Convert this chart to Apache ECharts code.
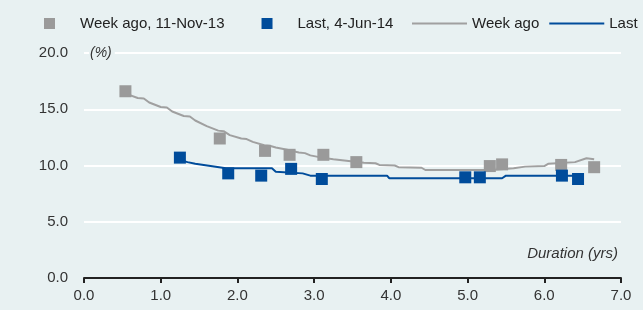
<!DOCTYPE html>
<html>
<head>
<meta charset="utf-8">
<script src="https://cdn.jsdelivr.net/npm/echarts@6/dist/echarts.min.js"></script>
<style>
  html, body { margin: 0; padding: 0; background: #e8f1f2; }
  #chart { width: 643px; height: 310px; }
</style>
</head>
<body>
<div id="chart"></div>
<script>
// scatter points [duration, yield %]
var weekAgoPoints = [[0.54, 16.6], [1.77, 12.4], [2.36, 11.3], [2.68, 10.95], [3.12, 10.95],
  [3.55, 10.3], [5.29, 9.95], [5.45, 10.1], [6.22, 10.05], [6.65, 9.85]];
var lastPoints = [[1.25, 10.7], [1.88, 9.3], [2.31, 9.1], [2.70, 9.7], [3.10, 8.8],
  [4.97, 8.95], [5.16, 8.95], [6.23, 9.1], [6.44, 8.8]];

// fitted curves
var weekAgoCurve = [[0.58, 16.3], [0.7, 16.0], [0.78, 15.95], [0.85, 15.6], [1.0, 15.2], [1.08, 15.15],
  [1.15, 14.8], [1.3, 14.4], [1.38, 14.35], [1.45, 14.0], [1.6, 13.5], [1.75, 13.1], [1.82, 13.05],
  [1.9, 12.7], [2.05, 12.4], [2.12, 12.35], [2.2, 12.1], [2.35, 11.8], [2.42, 11.75], [2.5, 11.6],
  [2.65, 11.4], [2.8, 11.15], [2.88, 11.1], [2.95, 10.9], [3.1, 10.7], [3.25, 10.55], [3.45, 10.4],
  [3.65, 10.25], [3.8, 10.2], [3.85, 10.05], [4.05, 10.0], [4.1, 9.85], [4.4, 9.8], [4.45, 9.6],
  [5.3, 9.6], [5.6, 9.75], [5.75, 9.9], [6.0, 9.95], [6.05, 10.15], [6.4, 10.3], [6.55, 10.65], [6.65, 10.55]];
var lastCurve = [[1.27, 10.45], [1.35, 10.3], [1.45, 10.15], [1.65, 9.95], [1.85, 9.75], [2.45, 9.75],
  [2.5, 9.45], [2.85, 9.3], [2.95, 9.1], [3.95, 9.1], [3.98, 8.87], [5.45, 8.87], [5.5, 9.1], [6.45, 9.1]];

var xTicks = [0, 1, 2, 3, 4, 5, 6, 7];
var yTicks = [0, 5, 10, 15, 20];

var FONT = '"Liberation Sans", Arial, sans-serif';
var GRAY = '#9a9a9a';
var BLUE = '#004c9b';
var BG = '#e8f1f2';

var chart = echarts.init(document.getElementById('chart'));
var option = {
  backgroundColor: BG,
  animation: false,
  textStyle: { fontFamily: FONT },
  grid: { left: 84, right: 22, top: 53, bottom: 32 },
  legend: [
    {
      left: 44, top: 16, padding: 0,
      icon: 'rect', itemWidth: 11, itemHeight: 11, itemGap: 37,
      textStyle: { fontFamily: FONT, fontSize: 15, color: '#222', padding: [0, 0, 0, 20] },
      data: ['Week ago, 11-Nov-13', 'Last, 4-Jun-14']
    },
    {
      left: 412, top: 16, padding: 0, width: 231,
      icon: 'rect', itemWidth: 55, itemHeight: 2, itemGap: 10,
      textStyle: { fontFamily: FONT, fontSize: 15, color: '#222' },
      data: ['Week ago', 'Last']
    }
  ],
  xAxis: {
    type: 'value', min: 0, max: 7, interval: 1,
    axisLine: { lineStyle: { color: '#222', width: 2 } },
    axisTick: { show: true, length: 5, lineStyle: { color: '#222', width: 2 } },
    axisLabel: { fontFamily: FONT, fontSize: 15, color: '#333', margin: 10,
      formatter: function (v) { return v.toFixed(1); } },
    splitLine: { show: false }
  },
  yAxis: {
    type: 'value', min: 0, max: 20, interval: 5,
    axisLine: { show: false },
    axisTick: { show: false },
    axisLabel: { fontFamily: FONT, fontSize: 15, color: '#333', margin: 16,
      formatter: function (v) { return v.toFixed(1); } },
    splitLine: { lineStyle: { color: '#ffffff', width: 2 } }
  },
  graphic: [
    { type: 'text', left: 89, top: 46, z: 100,
      style: { text: '(%)', font: 'italic 14px ' + FONT, fill: '#333',
        backgroundColor: BG, padding: [0, 3, 0, 1] } },
    { type: 'text', right: 25, top: 246, z: 100,
      style: { text: 'Duration (yrs)', font: 'italic 15px ' + FONT, fill: '#333' } }
  ],
  series: [
    {
      name: 'Week ago', type: 'line', data: weekAgoCurve,
      showSymbol: false, symbol: 'none', z: 2,
      lineStyle: { color: '#a0a0a0', width: 2 }, itemStyle: { color: '#a0a0a0' }
    },
    {
      name: 'Last', type: 'line', data: lastCurve,
      showSymbol: false, symbol: 'none', z: 2,
      lineStyle: { color: BLUE, width: 2 }, itemStyle: { color: BLUE }
    },
    {
      name: 'Week ago, 11-Nov-13', type: 'scatter', data: weekAgoPoints,
      symbol: 'rect', symbolSize: 12, z: 3, itemStyle: { color: GRAY, opacity: 1 }
    },
    {
      name: 'Last, 4-Jun-14', type: 'scatter', data: lastPoints,
      symbol: 'rect', symbolSize: 12, z: 3, itemStyle: { color: BLUE, opacity: 1 }
    }
  ]
};
chart.setOption(option);
</script>
</body>
</html>
